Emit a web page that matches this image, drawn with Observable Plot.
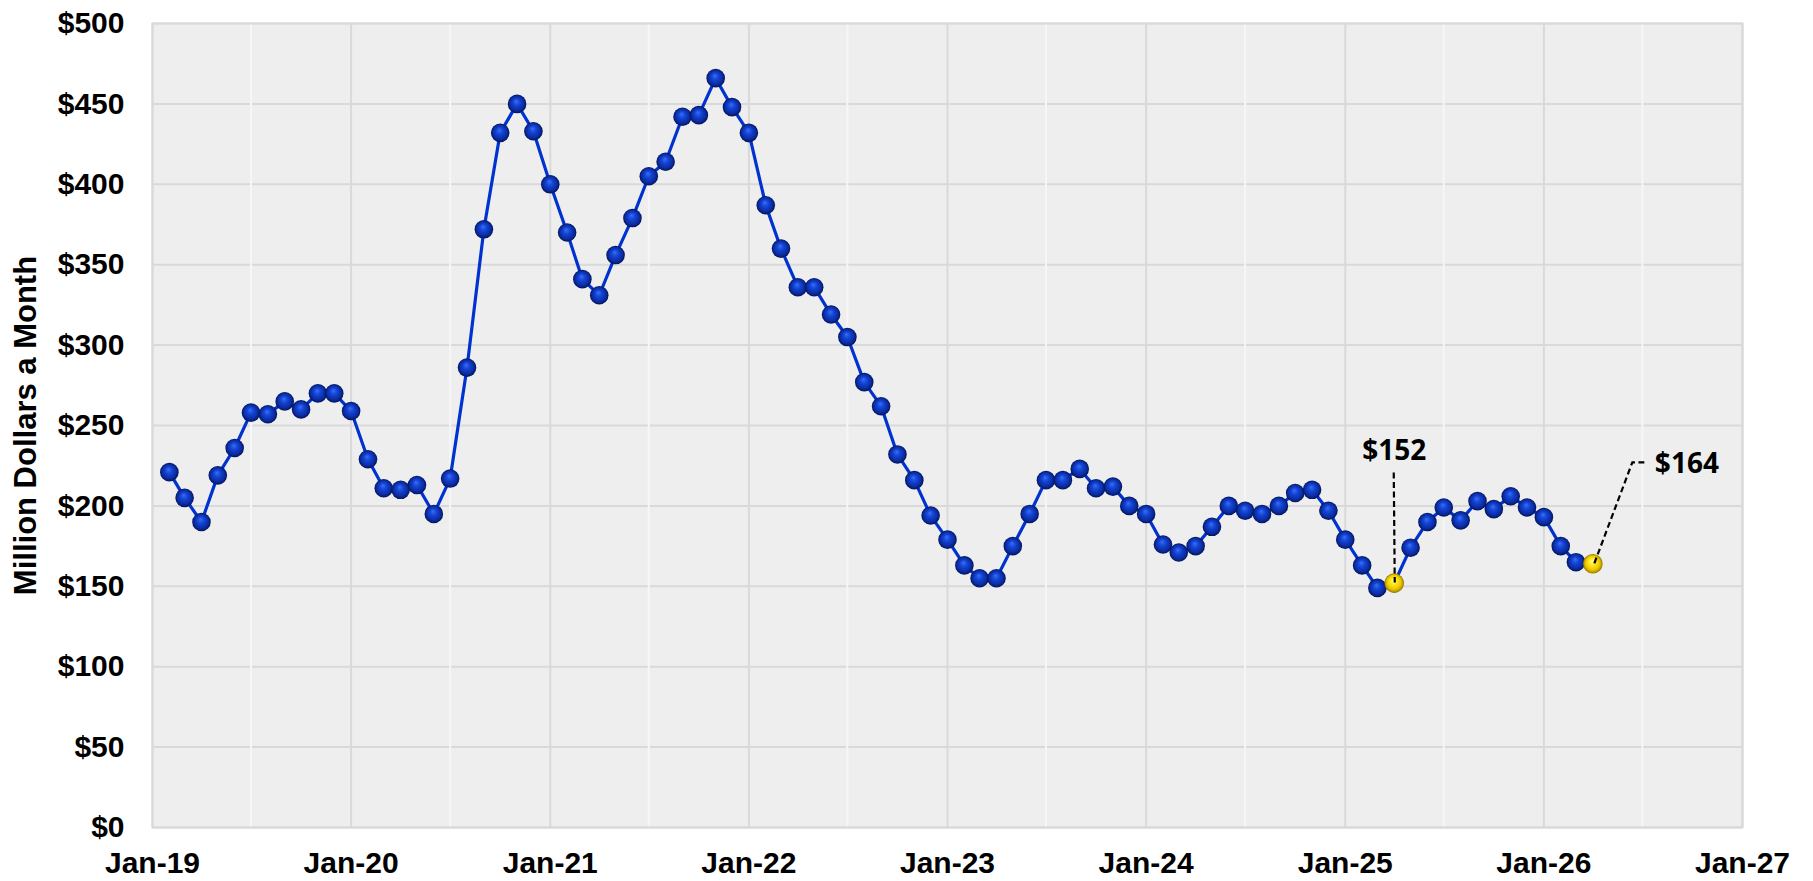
<!DOCTYPE html>
<html>
<head>
<meta charset="utf-8">
<script src="https://cdn.jsdelivr.net/npm/d3@7"></script>
<script src="https://cdn.jsdelivr.net/npm/@observablehq/plot@0.6"></script>
<style>
  html, body { margin: 0; padding: 0; background: #ffffff; }
  #chart svg { display: block; }
</style>
</head>
<body>
<div id="chart"></div>
<script>
// ---- Data (million dollars a month), monthly observations ----
// 2019 series starts in February
const values2019 = [221, 205, 190, 219, 236, 258, 257, 265, 260, 270, 270]; // Feb..Dec
const values2020 = [259, 229, 211, 210, 213, 195, 217, 286, 372, 432, 450, 433];
const values2021 = [400, 370, 341, 331, 356, 379, 405, 414, 442, 443, 466, 448];
const values2022 = [432, 387, 360, 336, 336, 319, 305, 277, 262, 232, 216, 194];
const values2023 = [179, 163, 155, 155, 175, 195, 216, 216, 223, 211, 212, 200];
const values2024 = [195, 176, 171, 175, 187, 200, 197, 195, 200, 208, 210, 197];
const values2025 = [179, 163, 149, 152, 174, 190, 199, 191, 203, 198, 206, 199];
const values2026 = [193, 175, 165, 164]; // Jan..Apr

const seriesByYear = [
  {year: 2019, firstMonth: 2, values: values2019},
  {year: 2020, firstMonth: 1, values: values2020},
  {year: 2021, firstMonth: 1, values: values2021},
  {year: 2022, firstMonth: 1, values: values2022},
  {year: 2023, firstMonth: 1, values: values2023},
  {year: 2024, firstMonth: 1, values: values2024},
  {year: 2025, firstMonth: 1, values: values2025},
  {year: 2026, firstMonth: 1, values: values2026}
];

// highlighted observations with their labels
const highlightMonths = ["2025-04", "2026-04"];
const highlightValues = [152, 164];
const highlightLabels = ["$152", "$164"];

// axis ticks
const yTicks = [0, 50, 100, 150, 200, 250, 300, 350, 400, 450, 500];
const xTickYears = [2019, 2020, 2021, 2022, 2023, 2024, 2025, 2026, 2027];
const xTickLabels = ["Jan-19", "Jan-20", "Jan-21", "Jan-22", "Jan-23", "Jan-24", "Jan-25", "Jan-26", "Jan-27"];
const yAxisTitle = "Million Dollars a Month";

// ---- Build tables ----
const monthDate = (y, m) => new Date(Date.UTC(y, m - 1, 1));
const data = seriesByYear.flatMap(s =>
  s.values.map((v, i) => ({date: monthDate(s.year, s.firstMonth + i), value: v}))
);
const highlights = highlightMonths.map((m, i) => {
  const [y, mo] = m.split("-").map(Number);
  return {date: monthDate(y, mo), value: highlightValues[i], label: highlightLabels[i]};
});
const majorDates = xTickYears.map(y => monthDate(y, 1));
const minorDates = xTickYears.slice(0, -1).map(y => monthDate(y, 7));
const xLabelOf = d => xTickLabels[xTickYears.indexOf(d.getUTCFullYear())];

const annFont = "'Noto Sans', 'Open Sans', sans-serif";

const plot = Plot.plot({
  width: 1813,
  height: 881,
  marginLeft: 152,
  marginRight: 71,
  marginTop: 23,
  marginBottom: 54,
  style: {
    fontFamily: "'Liberation Sans', Arial, sans-serif",
    fontSize: "30px",
    fontWeight: "bold",
    color: "#000000",
    background: "#ffffff",
    overflow: "visible"
  },
  x: {
    type: "utc",
    domain: [majorDates[0], majorDates[majorDates.length - 1]],
    ticks: majorDates,
    tickFormat: xLabelOf,
    tickSize: 0,
    tickPadding: 24,
    label: null
  },
  y: {
    domain: [0, 500],
    ticks: yTicks,
    tickFormat: d => "$" + d,
    tickSize: 0,
    tickPadding: 28,
    label: null
  },
  marks: [
    Plot.frame({fill: "#eeeeee"}),
    Plot.gridY(yTicks, {stroke: "#d9d9d9", strokeOpacity: 1, strokeWidth: 2}),
    Plot.gridX(majorDates, {stroke: "#d9d9d9", strokeOpacity: 1, strokeWidth: 2}),
    Plot.gridX(minorDates, {stroke: "#f6f6f6", strokeOpacity: 1, strokeWidth: 2}),
    Plot.frame({stroke: "#d9d9d9", strokeWidth: 2}),
    Plot.line(data, {x: "date", y: "value", stroke: "#0032d0", strokeWidth: 3.2}),
    Plot.dot(data, {x: "date", y: "value", r: 9.3, fill: "#0b2fa8", stroke: "none", className: "blue-ball"}),
    Plot.dot(highlights, {x: "date", y: "value", r: 9.8, fill: "#f2d000", stroke: "none", className: "gold-ball"}),
    Plot.text(highlights.slice(0, 1), {
      x: "date", y: "value", text: "label", dy: -123, lineAnchor: "bottom", textAnchor: "middle",
      fontFamily: annFont, fontSize: 28, fontWeight: 700, fill: "#000"
    }),
    Plot.text(highlights.slice(1, 2), {
      x: "date", y: "value", text: "label", dx: 62, dy: -100, lineAnchor: "middle", textAnchor: "start",
      fontFamily: annFont, fontSize: 28, fontWeight: 700, fill: "#000"
    }),
    Plot.text([yAxisTitle], {
      text: d => d, frameAnchor: "left", rotate: -90, dx: -117, lineAnchor: "bottom", textAnchor: "middle",
      fontSize: 31, fontWeight: "bold", fill: "#000"
    })
  ]
});

document.getElementById("chart").appendChild(plot);

// ---- Sphere gradients and soft edges for the markers ----
const svg = d3.select(plot);
const defs = svg.insert("defs", ":first-child");
function ball(id, stops) {
  const g = defs.append("radialGradient").attr("id", id)
    .attr("cx", "50%").attr("cy", "50%").attr("r", "50%")
    .attr("fx", "45%").attr("fy", "35%");
  stops.forEach(([o, c]) => g.append("stop").attr("offset", o).attr("stop-color", c));
}
ball("blueBall", [["0%", "#3d6ef2"], ["35%", "#1446d8"], ["72%", "#0a2ea6"], ["100%", "#041660"]]);
ball("goldBall", [["0%", "#fff8a8"], ["35%", "#ffe81a"], ["72%", "#ebc600"], ["100%", "#9a7a00"]]);
defs.append("filter").attr("id", "soft").attr("x", "-20%").attr("y", "-20%").attr("width", "140%").attr("height", "140%")
  .append("feGaussianBlur").attr("stdDeviation", 0.7);
svg.selectAll(".blue-ball circle").attr("fill", "url(#blueBall)");
svg.selectAll(".gold-ball circle").attr("fill", "url(#goldBall)");
svg.selectAll(".blue-ball, .gold-ball").attr("filter", "url(#soft)");

// ---- Dashed leader lines, positioned through Plot's own scales ----
const sx = plot.scale("x"), sy = plot.scale("y");
const leaderLayer = svg.append("g").attr("fill", "none").attr("stroke", "#000")
  .attr("stroke-width", 2.2).attr("stroke-dasharray", "6,3.5");
{
  const h = highlights[0];
  const px = sx.apply(h.date), py = sy.apply(h.value);
  leaderLayer.append("path").attr("d", `M${px},${py - 110}L${px + 1},${py}`);
}
{
  const h = highlights[1];
  const px = sx.apply(h.date), py = sy.apply(h.value);
  leaderLayer.append("path").attr("d", `M${px + 2},${py}L${px + 40},${py - 101}L${px + 52},${py - 101}`);
}
</script>
</body>
</html>
